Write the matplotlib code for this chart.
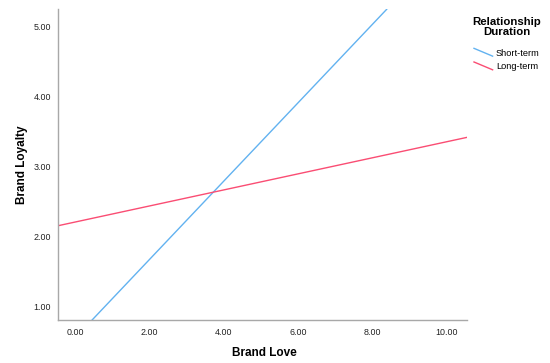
import matplotlib
matplotlib.use("Agg")
import matplotlib.pyplot as plt
from matplotlib.lines import Line2D
from matplotlib.legend_handler import HandlerLine2D

plt.rcParams['font.family'] = ['Liberation Sans', 'DejaVu Sans']

# fitted lines, endpoints
groups = ["Short-term", "Long-term"]
short_x = [0.457, 8.38]
short_y = [0.81, 5.25]
long_x = [-0.46, 10.54]
long_y = [2.157, 3.42]

x_ticks = [0, 2, 4, 6, 8, 10]
y_ticks = [1, 2, 3, 4, 5]

blue = '#62b2f0'
red = '#fa4d73'


class DiagHandler(HandlerLine2D):
    # legend swatch drawn as a short diagonal line
    def create_artists(self, legend, orig_handle, xdescent, ydescent,
                       width, height, fontsize, trans):
        ln = Line2D([-xdescent, -xdescent + width],
                    [-ydescent + height * 1.1, -ydescent - height * 0.1],
                    color=orig_handle.get_color(), lw=orig_handle.get_linewidth())
        ln.set_transform(trans)
        return [ln]


fig = plt.figure(figsize=(5.5, 3.63), dpi=100)
ax = fig.add_axes([58 / 550, 1 - 320 / 363, (467 - 58) / 550, (320 - 9.3) / 363])

l1, = ax.plot(short_x, short_y, color=blue, lw=1.0)
l2, = ax.plot(long_x, long_y, color=red, lw=1.0)

ax.set_xlim(-0.46, 10.54)
ax.set_ylim(0.81, 5.25)
ax.set_xticks(x_ticks)
ax.set_yticks(y_ticks)
ax.set_xticklabels(["%.2f" % v for v in x_ticks])
ax.set_yticklabels(["%.2f" % v for v in y_ticks])
ax.tick_params(length=0, labelsize=6.4, colors='#222222')
ax.tick_params(axis='x', pad=6)
ax.tick_params(axis='y', pad=5)

for s in ['top', 'right']:
    ax.spines[s].set_visible(False)
for s in ['left', 'bottom']:
    ax.spines[s].set_color('#a8a8a8')
    ax.spines[s].set_linewidth(1.0)

fig.text(264 / 550, 1 - 353 / 363, "Brand Love", ha='center', va='center',
         fontsize=8.5, fontweight='bold')
fig.text(22 / 550, 1 - 165 / 363, "Brand Loyalty", ha='center', va='center',
         rotation=90, fontsize=8.5, fontweight='bold')

# legend title placed by hand, entries below it
fig.text(507 / 550, 1 - 27 / 363, "Relationship\nDuration", ha='center',
         va='center', multialignment='center', fontsize=8.2,
         fontweight='bold', linespacing=1.1)
leg = fig.legend([l1, l2], groups, loc='upper left',
                 bbox_to_anchor=(474 / 550, 1 - 48.5 / 363), frameon=False,
                 fontsize=6.7, handler_map={Line2D: DiagHandler()},
                 handlelength=2.0, handletextpad=0.35, labelspacing=0.5,
                 borderaxespad=0, borderpad=0)

plt.savefig("out.png", dpi=100)
